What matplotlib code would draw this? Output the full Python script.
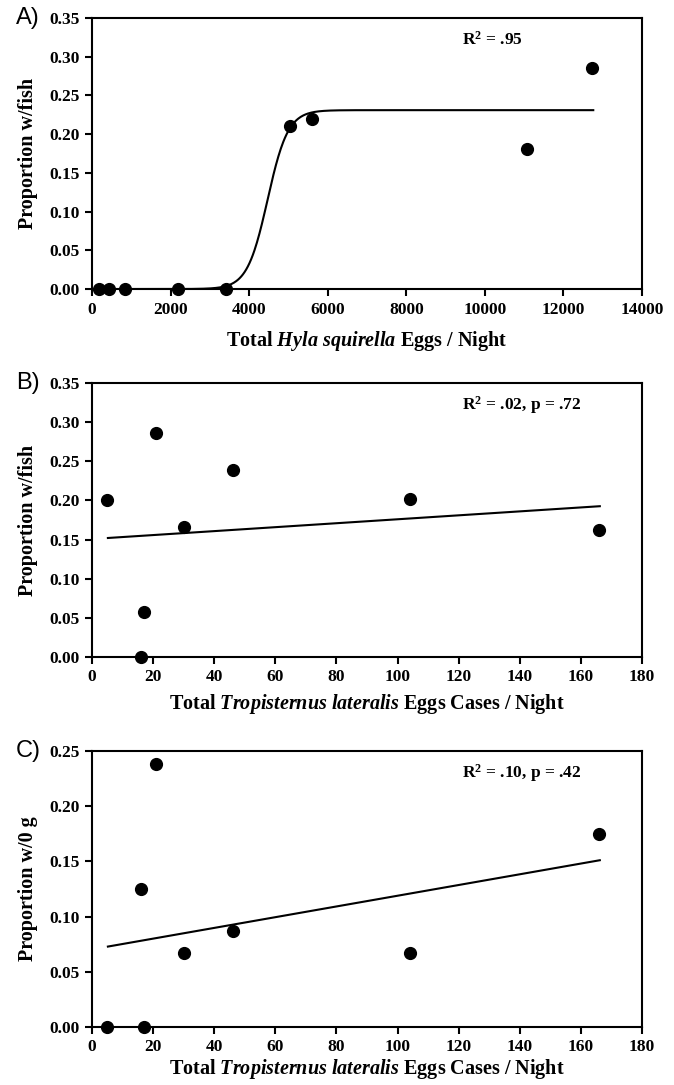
import matplotlib
matplotlib.use("Agg")
import matplotlib.pyplot as plt
import numpy as np

# panel A: Hyla squirella eggs vs proportion with fish
hyla_eggs = [190, 440, 830, 2180, 3400, 5040, 5590, 11070, 12730]
hyla_prop = [0.0, 0.0, 0.0, 0.0, 0.0, 0.210, 0.219, 0.181, 0.286]
# fitted sigmoid drawn in the figure: top / (1 + exp(-(x - mid) / scale))
sig_top, sig_mid, sig_scale = 0.231, 4470, 260
sig_range = (190, 12760)

# panels B and C: Tropisternus lateralis egg cases
trop_cases = [5, 16, 17, 21, 30, 46, 104, 166]
prop_fish = [0.200, 0.0, 0.058, 0.286, 0.166, 0.239, 0.202, 0.162]
prop_zero = [0.0, 0.125, 0.0, 0.238, 0.067, 0.087, 0.067, 0.175]
fit_x = [5.2, 166.2]
fit_fish = [0.152, 0.1926]
fit_zero = [0.0728, 0.151]

plt.rcParams.update({
    "font.family": "Liberation Serif",
    "font.weight": "bold",
    "mathtext.fontset": "custom",
    "mathtext.rm": "Liberation Serif:bold",
    "mathtext.it": "Liberation Serif:italic:bold",
    "mathtext.bf": "Liberation Serif:bold",
})

fig = plt.figure(figsize=(6.74, 10.85), dpi=100)
ax_a = fig.add_axes([0.1365, 0.7336, 0.816, 0.2498])
ax_b = fig.add_axes([0.1365, 0.3945, 0.816, 0.2525])
ax_c = fig.add_axes([0.1365, 0.0535, 0.816, 0.2544])


def style(ax, xmax, xstep, ymax, ystep, xlabel, ylabel, letter, note, xpad):
    ax.set_xlim(0, xmax)
    ax.set_ylim(0, ymax)
    ax.set_xticks(np.arange(0, xmax + xstep / 2, xstep))
    ax.set_yticks(np.arange(0, ymax + ystep / 2, ystep))
    ax.yaxis.set_major_formatter(matplotlib.ticker.FormatStrFormatter("%.2f"))
    for s in ax.spines.values():
        s.set_linewidth(1.5)
    ax.tick_params(direction="out", length=5, width=1.5, labelsize=12.5, pad=4)
    for lab in ax.get_xticklabels() + ax.get_yticklabels():
        lab.set_fontweight("bold")
    ax.set_xlabel(xlabel, fontsize=14.5, fontweight="bold", labelpad=xpad)
    ax.set_ylabel(ylabel, fontsize=14.5, fontweight="bold", labelpad=8)
    ax.text(-0.116, 1.0, letter, transform=ax.transAxes, family="Liberation Sans",
            fontweight="normal", fontsize=17, ha="center", va="center")
    ax.text(0.672, 0.92, note, transform=ax.transAxes, fontsize=12.5,
            fontweight="bold", ha="left", va="center")


# A
xs = np.linspace(sig_range[0], sig_range[1], 600)
ax_a.plot(xs, sig_top / (1 + np.exp(-(xs - sig_mid) / sig_scale)), color="black", lw=1.5)
ax_a.scatter(hyla_eggs, hyla_prop, s=72, color="black", zorder=3, clip_on=False)
style(ax_a, 14000, 2000, 0.35, 0.05, r"Total $\it{Hyla\ squirella}$ Eggs / Night",
      "Proportion w/fish", "A)", r"R$^2$ = .95", 8)

# B
ax_b.plot(fit_x, fit_fish, color="black", lw=1.5)
ax_b.scatter(trop_cases, prop_fish, s=72, color="black", zorder=3, clip_on=False)
style(ax_b, 180, 20, 0.35, 0.05,
      r"Total $\it{Tropisternus\ lateralis}$ Eggs Cases / Night",
      "Proportion w/fish", "B)", r"R$^2$ = .02, p = .72", 5)

# C
ax_c.plot(fit_x, fit_zero, color="black", lw=1.5)
ax_c.scatter(trop_cases, prop_zero, s=72, color="black", zorder=3, clip_on=False)
style(ax_c, 180, 20, 0.25, 0.05,
      r"Total $\it{Tropisternus\ lateralis}$ Eggs Cases / Night",
      "Proportion w/0 g", "C)", r"R$^2$ = .10, p = .42", 1)

fig.savefig("out.png", dpi=100)
